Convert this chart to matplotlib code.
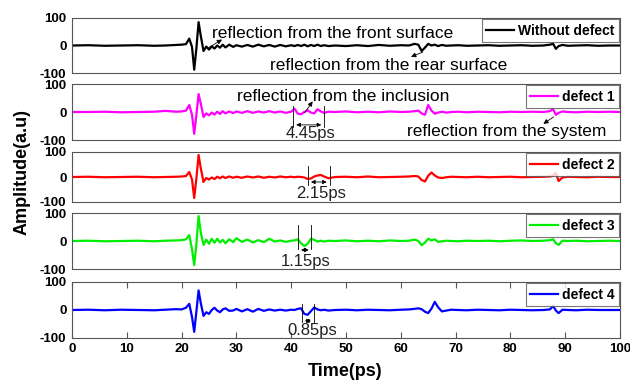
# Terahertz time-domain signals: sample without defect and with defects 1-4

import matplotlib
matplotlib.use('Agg')
import matplotlib.pyplot as plt

plt.rcParams['font.family'] = ['Liberation Sans', 'DejaVu Sans']
plt.rcParams['axes.unicode_minus'] = False

# time axis (ps), shared by all traces
time = [0, 3, 6, 9, 12, 15, 17, 19, 20, 20.8,
        21.4, 21.9, 22.3, 22.7, 23.1, 23.5, 24.0, 24.5, 25.0, 25.5,
        26.0, 26.5, 27.0, 27.5, 28.0, 28.7, 29.4, 30.0, 31.0, 32.0,
        33, 34, 35, 36, 37, 38, 39, 40, 40.6, 41.2,
        41.8, 42.4, 43.0, 43.6, 44.2, 44.8, 45.4, 46.0, 46.8, 48,
        50, 52, 54, 56, 58, 60, 61.5, 62.5, 63.2, 63.8,
        64.4, 65.0, 65.6, 66.2, 66.8, 67.5, 68.3, 69.2, 70.5, 72,
        74, 76, 78, 80, 82, 84, 86, 87.2, 87.8, 88.3,
        88.8, 89.5, 90.5, 92, 94, 96, 98, 100]

no_defect = [0, 1, -1, 0, 1, -1, 0, 2, 3, 5,
             25, -5, -88, -10, 85, 35, -20, -4, -15, -3,
             -11, 0, -8, 3, -7, 3, -5, 1, -4, 2,
             -4, 3, -3, 2, -4, 2, -3, 1, -2, 2,
             -2, 3, -3, 2, -2, 3, -2, 1, -2, 0,
             -2, 1, -2, 2, -1, 1, 0, 6, 3, -20,
             -8, 6, 0, 3, -2, 2, -1, 0, 1, -1,
             0, 1, -1, 0, 1, -1, 0, 3, 6, -12,
             -2, 2, -1, 0, 1, -1, 0, 0]

defect1 = [0, 0, 1, -1, 0, 1, 4, 1, 2, 5,
           25, -10, -78, -10, 64, 30, -18, -5, -12, -2,
           -9, 1, -7, 3, -5, 2, -4, 2, -3, 3,
           -3, 2, -2, 3, -2, 2, -3, 1, 12, -6,
           -8, 0, 6, -2, -5, 10, 2, -3, 1, 0,
           2, -1, 1, -1, 2, 0, 1, 3, 5, -5,
           -10, 25, 5, -6, -2, 1, -2, 0, 1, -1,
           1, 0, -1, 1, 0, 1, 0, 3, 10, -10,
           -3, 2, 0, -1, 1, 0, 1, 0]

defect2 = [0, 1, -1, 0, 1, -1, 0, 1, 2, 4,
           20, -10, -84, -5, 88, 35, -20, -4, -10, -2,
           -8, 1, -5, 2, -4, 2, -3, 1, -3, 2,
           -2, 2, -3, 1, -2, 2, -1, 1, -1, 1,
           0, -2, -8, -6, 2, 6, 8, 2, -5, 0,
           1, -1, 2, -1, 0, 1, 2, 4, 2, -12,
           -18, 5, 18, 6, -2, -4, -1, 1, 0, -1,
           1, -1, 0, 1, -1, 0, 1, 2, 5, 16,
           -16, -2, 1, 0, -1, 1, 0, 0]

defect3 = [0, 1, -1, 0, 1, -1, 1, 2, 3, 6,
           21, -30, -86, -10, 89, 30, -14, 5, -10, 8,
           -6, 8, -5, 4, -8, 6, -4, 10, -3, 5,
           -5, 3, -4, 8, -2, 2, -3, 1, 2, 6,
           -8, -18, -10, 8, 4, -2, 1, -2, 1, 0,
           2, -1, 1, -1, 2, 0, 1, 5, 0, -15,
           -6, 8, 2, 6, -3, -1, 1, 0, -1, 1,
           0, 1, -1, 1, 2, 0, 1, 3, 6, -8,
           -14, 1, 0, 1, -1, 0, 1, 0]

defect4 = [0, 1, -1, 1, 0, -1, 1, 3, 2, 8,
           22, -25, -78, -5, 70, 25, -21, -8, -14, 0,
           8, -2, -8, 2, 6, -3, -2, 4, -5, 3,
           -6, 4, -3, 2, -2, 1, -2, 1, 0, 4,
           6, -14, -17, -4, 9, 2, -1, 1, -2, 0,
           1, -1, 1, 0, -1, 1, 2, 4, 6, 3,
           -6, -11, 5, 29, 10, -5, -2, 1, 0, -1,
           1, 0, -1, 1, 0, -1, 0, 2, 14, -2,
           -11, 1, 0, -1, 1, 0, 0, 0]

series = [no_defect, defect1, defect2, defect3, defect4]
labels = ['Without defect', 'defect 1', 'defect 2', 'defect 3', 'defect 4']
colors = ['black', '#ff00ff', '#ff0000', '#00ee00', '#0000ff']

# axes rectangles in pixels (top, bottom) of a 630x382 figure
W, H = 630.0, 382.0
rows = [(18, 73), (84, 140), (152, 202), (213, 269), (282, 338)]

fig = plt.figure(figsize=(6.3, 3.82), dpi=100)
axes = []
for i, (top, bot) in enumerate(rows):
    ax = fig.add_axes([72 / W, 1 - bot / H, 548 / W, (bot - top) / H])
    ax.plot(time, series[i], color=colors[i], lw=1.6, label=labels[i])
    ax.set_xlim(0, 100)
    ax.set_ylim(-100, 100)
    ax.set_yticks([-100, 0, 100])
    ax.tick_params(axis='y', length=0, pad=4, labelsize=9.5)
    for lab in ax.get_yticklabels():
        lab.set_fontweight('bold')
    for sp in ax.spines.values():
        sp.set_color('#555555')
        sp.set_linewidth(0.8)
    leg = ax.legend(loc='upper right', fancybox=False, borderaxespad=0.1,
                    handlelength=2.0, handletextpad=0.3, borderpad=0.3,
                    prop={'weight': 'bold', 'size': 10})
    leg.get_frame().set_edgecolor('#555555')
    leg.get_frame().set_linewidth(0.8)
    if i < 4:
        ax.set_xticks([])
    else:
        ax.set_xticks(range(0, 101, 10))
        ax.tick_params(axis='x', direction='in', top=True, length=4,
                       labelsize=9.5, color='#555555')
        for lab in ax.get_xticklabels():
            lab.set_fontweight('bold')
    axes.append(ax)

arrow = dict(arrowstyle='-|>', lw=0.6, color='black', mutation_scale=7)
darrow = dict(arrowstyle='<|-|>', lw=0.6, color='black', mutation_scale=6)
txt = dict(fontsize=12.5, color='black')

# panel 1 annotations
a = axes[0]
a.text(25.5, 42, 'reflection from the front surface', va='center', **txt)
a.annotate('', xy=(27.8, 27), xytext=(24.3, -16), arrowprops=arrow)
a.text(36.2, -72, 'reflection from the rear surface', va='center', **txt)
a.annotate('', xy=(61.4, -45), xytext=(64.5, -20), arrowprops=arrow)

# panel 2 annotations
a = axes[1]
a.text(30.2, 57, 'reflection from the inclusion', va='center', **txt)
a.annotate('', xy=(44.2, 46), xytext=(42.2, -10), arrowprops=arrow)
a.text(61.2, -70, 'reflection from the system', va='center', **txt)
a.annotate('', xy=(85.6, -48), xytext=(88.3, -12), arrowprops=arrow)

# time-delay markers: (panel, t1, t2, line top, line bottom, arrow y, label x, label y, text)
marks = [(1, 40.4, 46.0, 20, -55, -46, 43.6, -78, '4.45ps'),
         (2, 43.1, 47.0, 45, -30, -20, 45.5, -66, '2.15ps'),
         (3, 41.3, 43.7, 57, -30, -32, 42.6, -72, '1.15ps'),
         (4, 42.0, 44.1, 20, -43, -39, 43.9, -72, '0.85ps')]
for p, t1, t2, yt, yb, ya, xl, yl, s in marks:
    a = axes[p]
    a.plot([t1, t1], [yt, yb], color='black', lw=0.6)
    a.plot([t2, t2], [yt, yb], color='black', lw=0.6)
    a.annotate('', xy=(t1, ya), xytext=(t2, ya), arrowprops=darrow)
    a.text(xl, yl, s, ha='center', va='center', fontsize=12, color='#222222')

fig.text(22 / W, 1 - 172 / H, 'Amplitude(a.u)', rotation=90, ha='center',
         va='center', fontsize=13, fontweight='bold')
fig.text(345 / W, 1 - 372 / H, 'Time(ps)', ha='center', va='center',
         fontsize=13, fontweight='bold')

fig.savefig('out.png', dpi=100)
